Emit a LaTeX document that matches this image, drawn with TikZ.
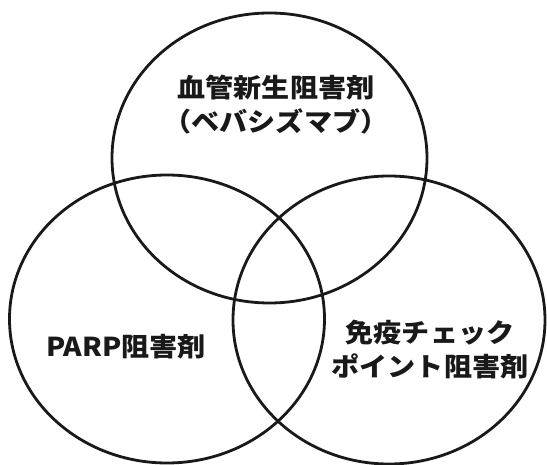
\documentclass[tikz,border=0pt]{standalone}
\usepackage{fontspec}
\newfontfamily\jp{Noto Sans CJK JP}
\begin{document}
\begin{tikzpicture}[x=1pt,y=-1pt,
  ring/.style={draw=black!90, line width=2.8pt},
  lbl/.style={font=\jp\bfseries\fontsize{26}{34}\selectfont, align=center, inner sep=0pt, text=black!90}]
\useasboundingbox (0,0) rectangle (547,465);
\draw[ring] (269.5,158) ellipse [x radius=157.5pt, y radius=145pt];
\draw[ring] (167,319) ellipse [x radius=157.5pt, y radius=144pt];
\draw[ring] (389,320) ellipse [x radius=156pt, y radius=144pt];
\node[lbl] (top) at (276,105) {\scalebox{1.08}[1]{血管新生阻害剤}\\\scalebox{1.08}[1]{（ベバシズマブ）}};
\node[lbl] (left) at (126,347) {\scalebox{1.08}[1]{PARP阻害剤}};
\node[lbl] (right) at (430,350) {\scalebox{1.08}[1]{免疫チェック}\\\scalebox{1.08}[1]{ポイント阻害剤}};
\end{tikzpicture}
\end{document}
